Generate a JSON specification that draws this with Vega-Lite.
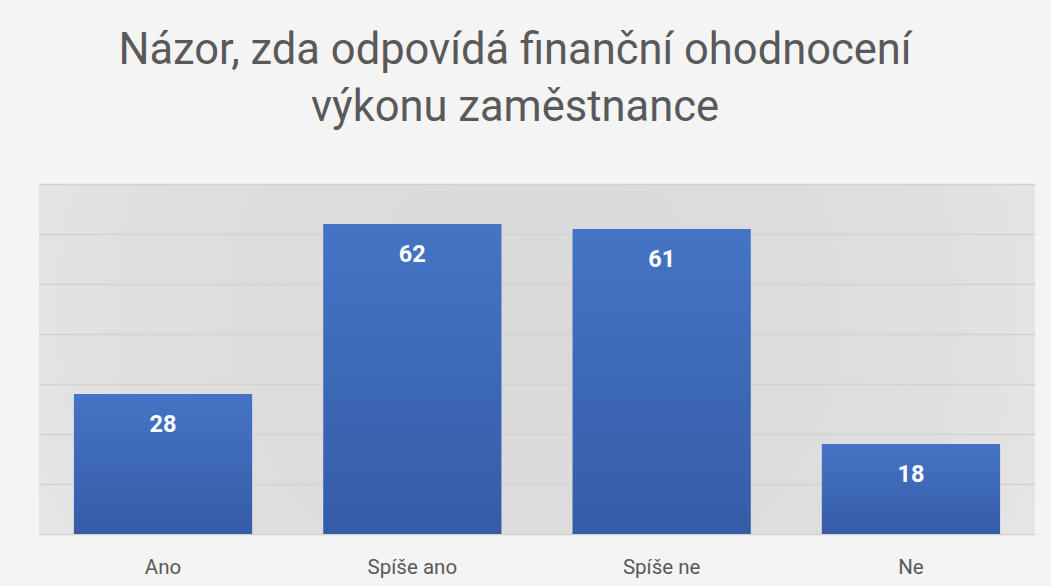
{
  "$schema": "https://vega.github.io/schema/vega-lite/v6.json",
  "width": 996,
  "height": 350,
  "autosize": {"type": "none"},
  "padding": {"left": 39, "top": 184, "right": 16, "bottom": 52},
  "background": "#f4f4f4",
  "title": {
    "text": ["Názor, zda odpovídá finanční ohodnocení", "výkonu zaměstnance"],
    "font": "Roboto",
    "fontSize": 43.5,
    "fontWeight": "normal",
    "color": "#595959",
    "lineHeight": 57,
    "anchor": "middle",
    "frame": "group",
    "dx": -22,
    "offset": 54
  },
  "data": {
    "values": [
      {"odpoved": "Ano", "pocet": 28},
      {"odpoved": "Spíše ano", "pocet": 62},
      {"odpoved": "Spíše ne", "pocet": 61},
      {"odpoved": "Ne", "pocet": 18}
    ]
  },
  "encoding": {
    "x": {
      "field": "odpoved",
      "type": "nominal",
      "sort": null,
      "title": null,
      "scale": {"paddingInner": 0.285, "paddingOuter": 0.14},
      "axis": {
        "labelAngle": 0,
        "ticks": false,
        "domain": false,
        "grid": false,
        "labelFont": "Roboto",
        "labelFontSize": 20.5,
        "labelColor": "#595959",
        "labelBaseline": "alphabetic",
        "labelPadding": 39
      }
    },
    "y": {
      "field": "pocet",
      "type": "quantitative",
      "title": null,
      "scale": {"domain": [0, 70], "nice": false},
      "axis": {
        "values": [0, 10, 20, 30, 40, 50, 60, 70],
        "labels": false,
        "ticks": false,
        "domain": false,
        "grid": true,
        "gridColor": "#d2d2d2",
        "gridWidth": 1.5
      }
    }
  },
  "layer": [
    {
      "mark": {
        "type": "bar",
        "color": {
          "gradient": "linear",
          "x1": 0, "y1": 0, "x2": 0, "y2": 1,
          "stops": [
            {"offset": 0, "color": "#4574c6"},
            {"offset": 1, "color": "#355ca7"}
          ]
        }
      }
    },
    {
      "mark": {
        "type": "text",
        "baseline": "alphabetic",
        "dy": 38,
        "font": "Roboto",
        "fontSize": 23.5,
        "fontWeight": "bold",
        "color": "#ffffff"
      },
      "encoding": {"text": {"field": "pocet", "type": "quantitative"}}
    }
  ],
  "config": {
    "view": {
      "stroke": null,
      "fill": {
        "gradient": "radial",
        "x1": 0.5, "y1": 0.45, "r1": 0,
        "x2": 0.5, "y2": 0.45, "r2": 0.75,
        "stops": [
          {"offset": 0, "color": "#d9d9d9"},
          {"offset": 0.55, "color": "#dfdfdf"},
          {"offset": 1, "color": "#f0f0f0"}
        ]
      }
    }
  }
}
